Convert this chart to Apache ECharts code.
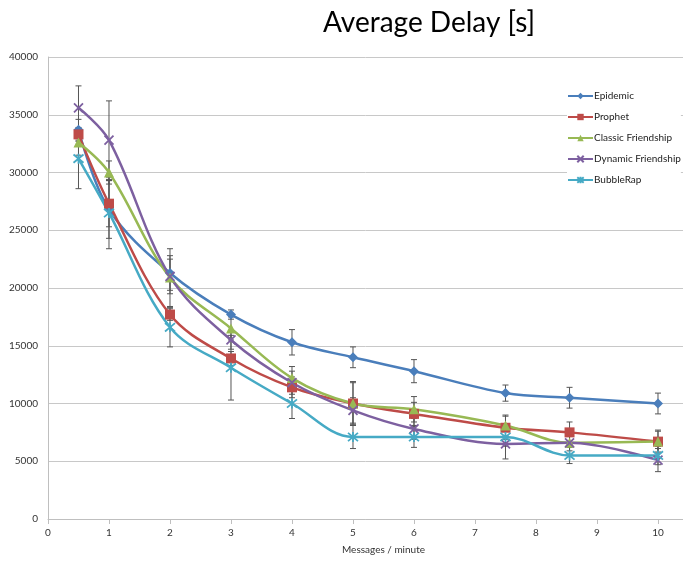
<!DOCTYPE html>
<html>
<head>
<meta charset="utf-8">
<script src="https://cdn.jsdelivr.net/npm/echarts@6/dist/echarts.min.js"></script>
<style>
  html, body { margin: 0; padding: 0; background: #fff; }
  #c { width: 683px; height: 561px; }
</style>
</head>
<body>
<div id="c"></div>
<script>
// messages per minute
const xValues = [0.5, 1, 2, 3, 4, 5, 6, 7.5, 8.55, 10]
const xTicks = [0, 1, 2, 3, 4, 5, 6, 7, 8, 9, 10]

const epidemic = [33700, 26800, 21300, 17700, 15300, 14000, 12800, 10900, 10500, 10000]
const prophet = [33300, 27300, 17700, 13900, 11400, 10000, 9100, 7900, 7500, 6700]
const classic = [32600, 30000, 20900, 16500, 12200, 10000, 9500, 8100, 6600, 6700]
const dynamic = [35600, 32800, 21000, 15500, 11800, 9400, 7800, 6500, 6600, 5100]
const bubble = [31200, 26500, 16600, 13100, 10000, 7100, 7100, 7100, 5500, 5500]

// half width of the error bars
const epidemicErr = [900, 2500, 1500, 400, 1100, 900, 1000, 700, 900, 900]
const prophetErr = [600, 2000, 500, 600, 900, 1900, 1000, 1000, 900, 1000]
const classicErr = [1100, 1000, 2500, 1000, 1000, 1800, 1100, 900, 700, 900]
const dynamicErr = [1900, 3400, 1500, 800, 1000, 1100, 900, 1300, 1000, 1000]
const bubbleErr = [2600, 3100, 1700, 2800, 1300, 1000, 900, 800, 700, 800]

const font = 'Lato, "Open Sans", sans-serif'

const crossPath = 'path://M0,0L10,10M10,0L0,10'
const starPath = 'path://M1,1L11,11M11,1L1,11M6,0L6,12'

const defs = [
  { name: 'Epidemic', data: epidemic, err: epidemicErr, color: '#4a7ebb', symbol: 'diamond', size: 10 },
  { name: 'Prophet', data: prophet, err: prophetErr, color: '#be4b48', symbol: 'rect', size: 10 },
  { name: 'Classic Friendship', data: classic, err: classicErr, color: '#98b954', symbol: 'triangle', size: 10 },
  { name: 'Dynamic Friendship', data: dynamic, err: dynamicErr, color: '#7d60a0', symbol: crossPath, size: 9, stroke: true },
  { name: 'BubbleRap', data: bubble, err: bubbleErr, color: '#46aac5', symbol: starPath, size: 10, stroke: true },
]

function errorSeries(d) {
  return {
    type: 'custom',
    name: d.name + ' error',
    z: 1,
    silent: true,
    data: xValues.map((x, i) => [x, d.data[i] - d.err[i], d.data[i] + d.err[i]]),
    encode: { x: 0, y: [1, 2] },
    renderItem(params, api) {
      const lo = api.coord([api.value(0), api.value(1)])
      const hi = api.coord([api.value(0), api.value(2)])
      const w = 3
      const style = { stroke: '#555', lineWidth: 1 }
      return {
        type: 'group',
        children: [
          { type: 'line', shape: { x1: lo[0], y1: lo[1], x2: hi[0], y2: hi[1] }, style },
          { type: 'line', shape: { x1: lo[0] - w, y1: lo[1], x2: lo[0] + w, y2: lo[1] }, style },
          { type: 'line', shape: { x1: hi[0] - w, y1: hi[1], x2: hi[0] + w, y2: hi[1] }, style },
        ],
      }
    },
  }
}

function lineSeries(d) {
  return {
    type: 'line',
    name: d.name,
    z: 3,
    smooth: 0.35,
    color: d.color,
    data: xValues.map((x, i) => [x, d.data[i]]),
    symbol: d.symbol,
    symbolSize: d.size,
    lineStyle: { color: d.color, width: 2.5 },
    itemStyle: d.stroke
      ? { color: d.color, borderColor: d.color, borderWidth: 1.8 }
      : { color: d.color, borderWidth: 0 },
  }
}

const series = []
defs.forEach(d => series.push(errorSeries(d)))
defs.forEach(d => series.push(lineSeries(d)))

const chart = echarts.init(document.getElementById('c'))
chart.setOption({
  animation: false,
  backgroundColor: '#fff',
  title: {
    text: 'Average Delay [s]',
    left: 318,
    top: 4,
    textStyle: { fontFamily: font, fontSize: 28, fontWeight: 'normal', color: '#000' },
  },
  legend: {
    data: defs.map(d => d.name),
    orient: 'vertical',
    left: 567,
    top: 91,
    itemWidth: 25,
    itemHeight: 8,
    itemGap: 11,
    backgroundColor: '#fff',
    padding: [0, 0, 0, 0],
    textStyle: { fontFamily: font, fontSize: 10, color: '#222', padding: [0, 0, 0, -4] },
  },
  grid: { left: 48, right: 0, top: 57, bottom: 42 },
  xAxis: {
    type: 'value',
    min: 0,
    max: 10.41,
    name: 'Messages / minute',
    nameLocation: 'middle',
    nameGap: 26,
    nameTextStyle: { fontFamily: font, fontSize: 10, color: '#333', padding: [0, 0, 0, 36] },
    axisLine: { lineStyle: { color: '#bfbfbf', width: 1 } },
    axisTick: { show: true, length: 5, lineStyle: { color: '#bfbfbf' }, customValues: xTicks },
    axisLabel: { fontFamily: font, fontSize: 10, color: '#333', margin: 9, customValues: xTicks },
    splitLine: { show: false },
  },
  yAxis: {
    type: 'value',
    min: 0,
    max: 40000,
    interval: 5000,
    axisLine: { show: true, lineStyle: { color: '#bfbfbf', width: 1 } },
    axisTick: { show: false },
    axisLabel: { fontFamily: font, fontSize: 10, color: '#333', margin: 10, formatter: v => String(v) },
    splitLine: { lineStyle: { color: '#c8c8c8', width: 1 } },
  },
  series,
})
</script>
</body>
</html>
